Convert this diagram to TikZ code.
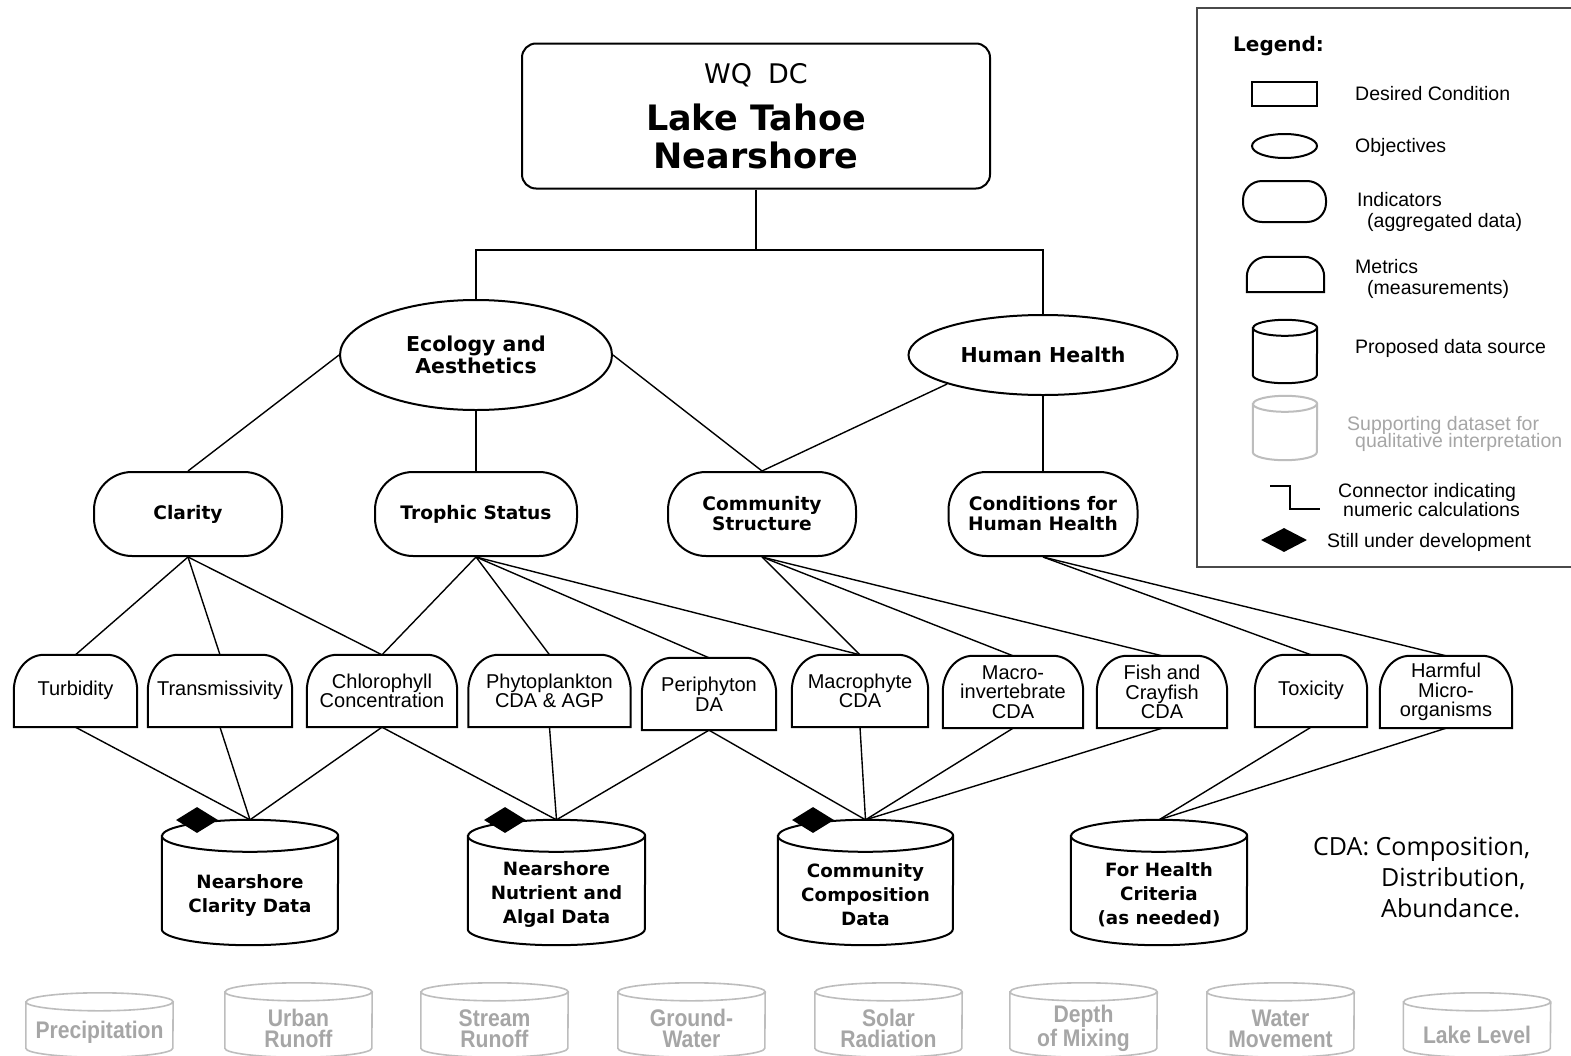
\documentclass[tikz,border=0pt]{standalone}
\usepackage{fontspec}
\setmainfont{Liberation Sans}
\newfontfamily\vfont{DejaVu Sans}
\newfontfamily\cdafont{Open Sans}
\newfontfamily\greyfont{Liberation Sans}[FakeStretch=0.88]
\usetikzlibrary{shapes.geometric}

\definecolor{supgrey}{HTML}{BDBDBD}
\definecolor{suptext}{HTML}{A6A6A6}
\definecolor{frame}{HTML}{4A4A4A}

% metric outline: flat bottom, rounded top corners (node, x radius, y radius)
\newcommand\metricshape[4][]{%
  \draw[shapeline,#1] (#2.south west) -- ([yshift=-#4pt]#2.north west)
    arc[start angle=180,end angle=90,x radius=#3pt,y radius=#4pt]
    -- ([xshift=-#3pt]#2.north east)
    arc[start angle=90,end angle=0,x radius=#3pt,y radius=#4pt]
    -- (#2.south east) -- cycle;}

% cylinder outline around a body node (node, x radius, y radius)
\newcommand\cylshape[4][]{%
  \draw[shapeline,#1] (#2.north west) -- ([yshift=#4pt]#2.south west)
    arc[start angle=180,end angle=360,x radius=#3pt,y radius=#4pt]
    -- (#2.north east)
    arc[start angle=0,end angle=180,x radius=#3pt,y radius=#4pt] -- cycle
    (#2.north west) arc[start angle=180,end angle=360,x radius=#3pt,y radius=#4pt];}

\tikzset{
  every node/.style={inner sep=0pt},
  conn/.style={line width=1.4pt},
  shapeline/.style={line width=2pt},
  dcbox/.style={draw, shapeline, rounded corners=14, minimum width=468, minimum height=145, align=center,
    font=\vfont\bfseries\fontsize{35}{38}\selectfont},
  objective/.style={ellipse, draw, shapeline, align=center, font=\vfont\bfseries\fontsize{20.5}{22}\selectfont},
  indicator/.style={draw, shapeline, rounded corners=38, minimum height=84, align=center, font=\vfont\bfseries\fontsize{18.6}{20}\selectfont},
  metric/.style={minimum height=72, align=center, font=\fontsize{20}{19.5}\selectfont},
  datasrc/.style={minimum height=109},
  dstext/.style={align=center, font=\vfont\bfseries\fontsize{18.3}{24}\selectfont},
  support/.style={minimum width=147},
  suptxt/.style={align=center, text=suptext, font=\greyfont\bfseries\fontsize{24}{21}\selectfont},
  devmark/.style={diamond, fill=black, minimum width=42, minimum height=26},
  legtext/.style={anchor=west, align=left, font=\fontsize{19.5}{20}\selectfont},
}

\begin{document}
\begin{tikzpicture}[x=1pt,y=-1pt]
\useasboundingbox (0,0) rectangle (1571,1055);
\fill[white] (0,0) rectangle (1571,1055);

% ---------- legend ----------
\draw[line width=2.2pt, draw=frame] (1197,8) rectangle (1585,567);
\node[anchor=west, font=\vfont\bfseries\fontsize{20}{20}\selectfont] (leghead) at (1233,46) {Legend:};
\node[draw, shapeline, minimum width=65, minimum height=24] (lgdc) at (1284.5,94) {};
\node[ellipse, draw, shapeline, minimum width=65, minimum height=24] (lgobj) at (1284.5,146) {};
\node[draw, shapeline, rounded corners=19, minimum width=83, minimum height=41] (lgind) at (1284.5,201.5) {};
\node[minimum width=77, minimum height=35] (lgmet) at (1285.5,274.5) {};
\metricshape{lgmet}{20}{20}
\node[minimum width=64, minimum height=55] (lgsrc) at (1285,355.5) {};
\cylshape{lgsrc}{32}{8}
\node[minimum width=64, minimum height=56] (lgsup) at (1285,432) {};
\cylshape[draw=supgrey]{lgsup}{32}{8}
\coordinate (lgca) at (1270,486);
\coordinate (lgcb) at (1320,509);
\draw[shapeline] (lgca) -- (1290,486) -- (1290,509) -- (lgcb);
\node[devmark, minimum width=46, minimum height=24] (lgdev) at (1284,540) {};

\node[legtext] (lt1) at (1355,94) {Desired Condition};
\node[legtext] (lt2) at (1355,147) {Objectives};
\node[legtext] (lt3) at (1357,200) {Indicators};
\node[legtext] (lt3b) at (1367,222) {(aggregated data)};
\node[legtext] (lt4) at (1355,267) {Metrics};
\node[legtext] (lt4b) at (1367,289) {(measurements)};
\node[legtext] (lt5) at (1355,348) {Proposed data source};
\node[legtext, text=suptext] (lt6) at (1347,425) {Supporting dataset for};
\node[legtext, text=suptext] (lt6b) at (1355,442) {qualitative interpretation};
\node[legtext] (lt7) at (1338,492) {Connector indicating};
\node[legtext] (lt7b) at (1343,510) {numeric calculations};
\node[legtext] (lt8) at (1327,542) {Still under development};

% ---------- desired condition ----------
\node[dcbox] (dc) at (756,116)
  {{\mdseries\fontsize{27}{38}\selectfont WQ\hspace{16pt}DC}\\[9pt]
   Lake Tahoe\\ Nearshore};
\coordinate (bus) at (756,250);

% ---------- objectives ----------
\node[objective, minimum width=272, minimum height=110] (eco) at (476,355) {Ecology and\\Aesthetics};
\node[objective, minimum width=269, minimum height=80] (hh) at (1043,355) {Human Health};

% ---------- indicators ----------
\node[indicator, minimum width=188] (clar) at (188,514) {Clarity};
\node[indicator, minimum width=202] (troph) at (476,514) {Trophic Status};
\node[indicator, minimum width=188] (comm) at (762,514) {Community\\Structure};
\node[indicator, minimum width=189] (cond) at (1043,514) {Conditions for\\Human Health};

% ---------- metrics ----------
\node[metric, minimum width=123] (turb)  at (75.5,691)  {Turbidity\strut};
\node[metric, minimum width=144] (trans) at (220,691)   {Transmissivity\strut};
\node[metric, minimum width=150] (chl)   at (382,691)   {Chlorophyll\\Concentration};
\node[metric, minimum width=162] (phyto) at (549.5,691) {Phytoplankton\\CDA \& AGP};
\node[metric, minimum width=134] (peri)  at (709,694)   {Periphyton\\DA};
\node[metric, minimum width=136] (macro) at (860,691)   {Macrophyte\\CDA};
\node[metric, minimum width=140] (minv)  at (1013,692)  {Macro-\\invertebrate\\CDA};
\node[metric, minimum width=130] (fish)  at (1162,692)  {Fish and\\Crayfish\\CDA};
\node[metric, minimum width=112] (tox)   at (1311,691)  {Toxicity\strut};
\node[metric, minimum width=132] (harm)  at (1446,692)  {Harmful\\Micro-\\organisms};
\foreach \m in {turb,trans,chl,phyto,peri,macro,minv,fish,tox,harm}
  {\metricshape{\m}{30}{36}}

% ---------- proposed data sources ----------
\node[datasrc, minimum width=176] (clard)   at (250,890.5)   {};
\node[datasrc, minimum width=177] (nutd)    at (556.5,890.5) {};
\node[datasrc, minimum width=175] (commd)   at (865.5,890.5) {};
\node[datasrc, minimum width=176] (healthd) at (1159,890.5)  {};
\cylshape{clard}{88}{16}
\cylshape{nutd}{88.5}{16}
\cylshape{commd}{87.5}{16}
\cylshape{healthd}{88}{16}
\node[dstext] (clardt)   at (250,895.5)   {Nearshore\\Clarity Data};
\node[dstext] (nutdt)    at (556.5,894.5) {Nearshore\\Nutrient and\\Algal Data};
\node[dstext] (commdt)   at (865.5,894.5) {Community\\Composition\\Data};
\node[dstext] (healthdt) at (1159,894.5)  {For Health\\Criteria\\(as needed)};

\node[devmark] (dev1) at (197,820) {};
\node[devmark] (dev2) at (505,820) {};
\node[devmark] (dev3) at (813,820) {};

% ---------- supporting datasets ----------
\node[support, minimum height=55] (sprec) at (99.5,1029.5)  {};
\node[support, minimum height=65] (surb)  at (298.5,1024.5) {};
\node[support, minimum height=65] (sstr)  at (494.5,1024.5) {};
\node[support, minimum height=65] (sgrd)  at (691.5,1024.5) {};
\node[support, minimum height=65] (ssol)  at (888.5,1024.5) {};
\node[support, minimum height=65] (sdep)  at (1083.5,1024.5){};
\node[support, minimum height=65] (swat)  at (1280.5,1024.5){};
\node[support, minimum height=55] (slak)  at (1477,1029.5)  {};
\foreach \s in {sprec,surb,sstr,sgrd,ssol,sdep,swat,slak}
  {\cylshape[draw=supgrey, line width=1.6pt]{\s}{73.5}{9}}
\node[suptxt] (sprect) at (99.5,1032.5)  {Precipitation};
\node[suptxt] (surbt)  at (298.5,1028.5) {Urban\\Runoff};
\node[suptxt] (sstrt)  at (494.5,1028.5) {Stream\\Runoff};
\node[suptxt] (sgrdt)  at (691.5,1028.5) {Ground-\\Water};
\node[suptxt] (ssolt)  at (888.5,1028.5) {Solar\\Radiation};
\node[suptxt] (sdept)  at (1083.5,1028.5){Depth\\of Mixing};
\node[suptxt] (swatt)  at (1280.5,1028.5){Water\\Movement};
\node[suptxt] (slakt)  at (1477,1034.5)  {Lake Level};

% ---------- abbreviation note ----------
\node[anchor=north west, align=left, font=\cdafont\fontsize{25}{31}\selectfont] (cdanote) at (1313,837)
  {CDA: Composition,\\\hspace*{68pt}Distribution,\\\hspace*{68pt}Abundance.};

% ---------- connectors ----------
\draw[conn] (dc.south) -- (bus);
\draw[conn] (eco.north) |- (bus) -| (hh.north);
\draw[conn] (eco.west) -- (clar.north);
\draw[conn] (eco.south) -- (troph.north);
\draw[conn] (eco.east) -- (comm.north);
\draw[conn] (hh.south west) -- (comm.north);
\draw[conn] (hh.south) -- (cond.north);

\foreach \m in {turb,trans,chl} {\draw[conn] (clar.south) -- (\m.north);}
\foreach \m in {chl,phyto,peri,macro} {\draw[conn] (troph.south) -- (\m.north);}
\foreach \m in {macro,minv,fish} {\draw[conn] (comm.south) -- (\m.north);}
\foreach \m in {tox,harm} {\draw[conn] (cond.south) -- (\m.north);}

\foreach \m in {turb,trans,chl} {\draw[conn] (\m.south) -- ([yshift=16pt]clard.north);}
\foreach \m in {chl,phyto,peri} {\draw[conn] (\m.south) -- ([yshift=16pt]nutd.north);}
\foreach \m in {peri,macro,minv,fish} {\draw[conn] (\m.south) -- ([yshift=16pt]commd.north);}
\foreach \m in {tox,harm} {\draw[conn] (\m.south) -- ([yshift=16pt]healthd.north);}
\end{tikzpicture}
\end{document}
